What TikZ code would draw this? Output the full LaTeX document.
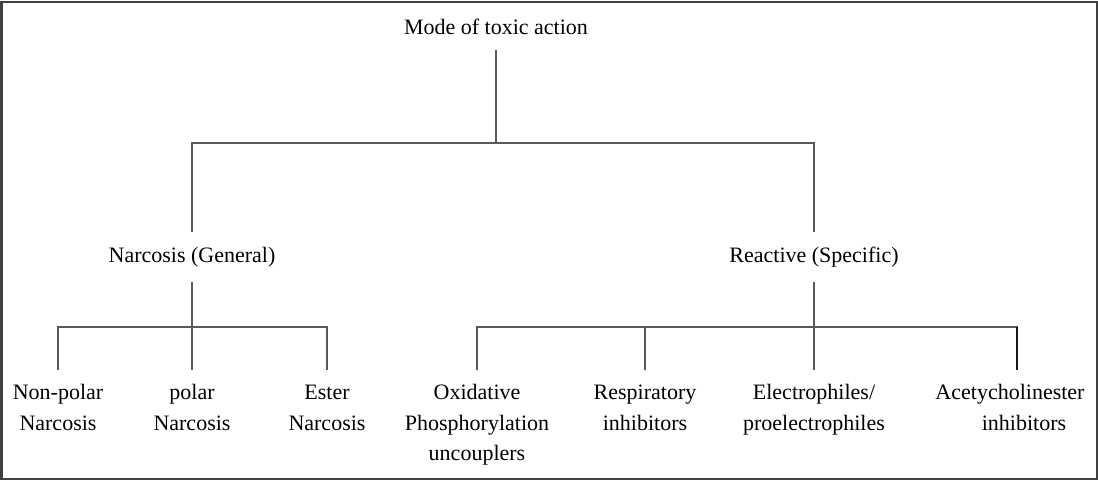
\documentclass[tikz,border=0pt]{standalone}
\usepackage{fontspec}
\setmainfont{Liberation Serif}
\usetikzlibrary{positioning,calc}
\newcommand{\leafstrut}{\vphantom{lMp}}
\tikzset{
  treeline/.style={line width=1pt, draw=black!65},
  boldline/.style={line width=1.5pt, draw=black!90},
  framebox/.style={line width=1.5pt, draw=black!75},
  headnode/.style={inner xsep=0pt, inner ysep=11.25pt, align=center},
  leafnode/.style={inner xsep=0pt, inner ysep=10.5pt, anchor=north, align=center}
}
\begin{document}
\begin{tikzpicture}[x=0.75pt, y=-0.75pt, every node/.style={font=\fontsize{16.5}{23}\selectfont}]
  \useasboundingbox (0,0) rectangle (1098,480);
  \draw[framebox] (1.5,1.5) rectangle (1096.5,478.5);

  \node[headnode] (mode) at (496,27) {Mode of toxic action};
  \node[headnode] (narc) at (192,257) {Narcosis (General)};
  \node[headnode] (reac) at (814,257) {Reactive (Specific)};

  \coordinate (topbar) at (496,143);
  \coordinate (narcbar) at (192,327);
  \coordinate (reacbar) at (814,327);

  \node[leafnode] (nonpolar) at (58,370) {\leafstrut Non-polar\\Narcosis};
  \node[leafnode] (polar) at (192,370) {\leafstrut polar\\Narcosis};
  \node[leafnode] (ester) at (327,370) {\leafstrut Ester\\Narcosis};
  \node[leafnode] (oxid) at (477,370) {\leafstrut Oxidative\\Phosphorylation\\uncouplers};
  \node[leafnode] (resp) at (645,370) {\leafstrut Respiratory\\inhibitors};
  \node[leafnode] (elec) at (814,370) {\leafstrut Electrophiles/\\proelectrophiles};
  \node[leafnode] (acety) at (1010,370) {\leafstrut Acetycholinester\\\hspace*{21pt}inhibitors};

  \draw[treeline] (mode) -- (topbar);
  \draw[treeline] (narc) |- (topbar) -| (reac);

  \draw[treeline] (narc) -- (narcbar);
  \draw[treeline] (nonpolar) |- (narcbar) -| (ester);
  \draw[treeline] (narcbar) -- (polar);

  \draw[treeline] (reac) -- (reacbar);
  \draw[treeline] (oxid) |- (reacbar);
  \draw[treeline] (resp) |- (reacbar);
  \draw[treeline] (reacbar) -- (elec);
  \draw[treeline] (reacbar) -| ([xshift=5.25pt]acety.north);
  \draw[boldline] ([xshift=5.25pt]acety.north) -- ([xshift=5.25pt]acety.north |- reacbar);
\end{tikzpicture}
\end{document}
